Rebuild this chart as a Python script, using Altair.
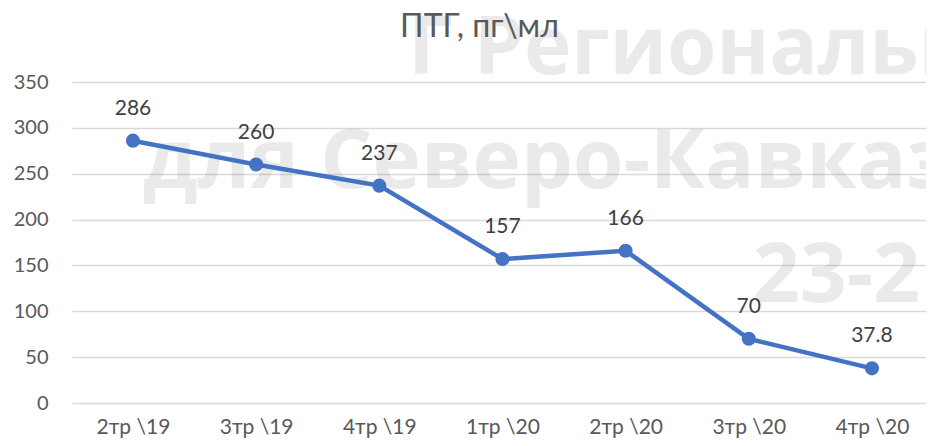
import altair as alt
import pandas as pd

categories = ["2тр \\19", "3тр \\19", "4тр \\19", "1тр \\20", "2тр \\20", "3тр \\20", "4тр \\20"]
values = [286, 260, 237, 157, 166, 70, 37.8]
y_ticks = [0, 50, 100, 150, 200, 250, 300, 350]
title_text = "ПТГ, пг\\мл"
watermark_lines = ["Г Региональн", "для Северо-Кавказ", "23-2"]

df = pd.DataFrame({"cat": categories, "val": values})

FONT = "Lato"
BLUE = "#4472C4"

x_enc = alt.X(
    "cat:N",
    sort=categories,
    scale=alt.Scale(type="point", padding=0.467, align=0.53),
    axis=alt.Axis(
        title=None, labelAngle=0, domain=False, ticks=False, tickSize=0, grid=False,
        labelFontSize=21, labelColor="#595959", labelFont=FONT, labelPadding=30,
        labelBaseline="alphabetic",
    ),
)
y_enc = alt.Y(
    "val:Q",
    scale=alt.Scale(domain=[0, 350], nice=False),
    axis=alt.Axis(
        title=None, values=y_ticks, domain=False, ticks=False, tickSize=0,
        grid=True, gridColor="#d9d9d9", gridWidth=1.3,
        labelFontSize=20, labelColor="#595959", labelFont=FONT, labelPadding=24,
    ),
)


def wm(text, px, py, size=82):
    return alt.Chart(pd.DataFrame({"t": [text]})).mark_text(
        font="Open Sans", fontWeight="bold", fontSize=size, color="#808080",
        opacity=0.16, align="left", baseline="alphabetic",
    ).encode(text="t:N", x=alt.value(px), y=alt.value(py))


wm1 = wm(watermark_lines[0], 336, -8, 80)
wm2 = wm(watermark_lines[1], 71, 106)
wm3 = wm(watermark_lines[2], 681, 220)

title = alt.Chart(pd.DataFrame({"t": [title_text]})).mark_text(
    font=FONT, fontSize=32, color="#595959", align="center", baseline="alphabetic",
).encode(text="t:N", x=alt.value(407.5), y=alt.value(-45))

base = alt.Chart(df).encode(x=x_enc, y=y_enc)
line = base.mark_line(color=BLUE, strokeWidth=4.5)
pts = base.mark_point(filled=True, size=200, opacity=1, color=BLUE)
labels = base.mark_text(
    dy=-26, fontSize=21, color="#404040", font=FONT, baseline="alphabetic"
).encode(text="val:Q")

chart = alt.layer(wm1, wm2, wm3, title, line, pts, labels).properties(
    width=854,
    height=321,
    autosize=alt.AutoSizeParams(type="none"),
    padding={"left": 64, "top": 74, "right": 0, "bottom": 35},
).configure_view(stroke=None)

chart.save("out.html", embed_options={"renderer": "svg", "actions": False})
